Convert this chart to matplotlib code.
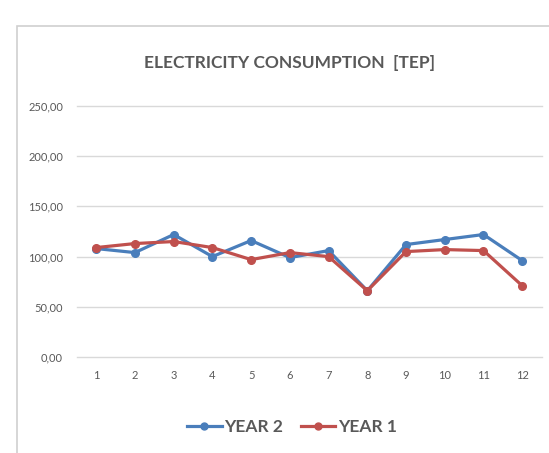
import matplotlib.pyplot as plt
import matplotlib
from matplotlib.patches import Rectangle
from matplotlib.ticker import FuncFormatter

matplotlib.rcParams['font.family'] = ['Lato', 'DejaVu Sans']

months = list(range(1, 13))
year2 = [108, 104, 122, 100, 116, 99, 106, 66, 112, 117, 122, 96]
year1 = [109, 113, 115, 109, 97, 104, 100, 66, 105, 107, 106, 71]
yticks = [0, 50, 100, 150, 200, 250]

fig = plt.figure(figsize=(5.49, 4.53), dpi=100)
fig.patches.append(Rectangle((17 / 549, -0.1), 1.0, 1 - 26 / 453 + 0.1,
                             transform=fig.transFigure, fill=False,
                             edgecolor='#d0d0d0', linewidth=1.2))

ax = fig.add_axes([0.140, 0.2119, 0.8465, 0.5541])
ax.plot(months, year2, color='#4a7ebb', lw=2.3, marker='o', ms=5.5, label='YEAR 2')
ax.plot(months, year1, color='#c0504d', lw=2.3, marker='o', ms=5.5, label='YEAR 1')

ax.set_xlim(0.5, 12.5)
ax.set_ylim(0, 250)
ax.set_yticks(yticks)
ax.yaxis.set_major_formatter(FuncFormatter(lambda v, p: f'{v:.2f}'.replace('.', ',')))
ax.set_xticks(months)
ax.grid(axis='y', color='#d9d9d9', lw=1)
for gl in ax.get_ygridlines():
    gl.set_clip_on(False)
ax.set_axisbelow(True)
for s in ax.spines.values():
    s.set_visible(False)
ax.tick_params(length=0, colors='#595959', labelsize=8)
ax.tick_params(axis='y', pad=10)
ax.tick_params(axis='x', pad=9)

fig.text(0.527, 1 - 63 / 453, 'ELECTRICITY CONSUMPTION  [TEP]', ha='center', va='center',
         fontsize=12.5, color='#595959', fontweight='bold')
fig.legend(loc='center', bbox_to_anchor=(0.532, 1 - 427 / 453), ncol=2, frameon=False,
           handlelength=2.0, columnspacing=1.0, handletextpad=0.15,
           prop={'weight': 'bold', 'size': 12.5}, labelcolor='#595959')
for h in fig.legends[0].get_lines():
    h.set_markersize(5)

fig.savefig('out.png', dpi=100)
